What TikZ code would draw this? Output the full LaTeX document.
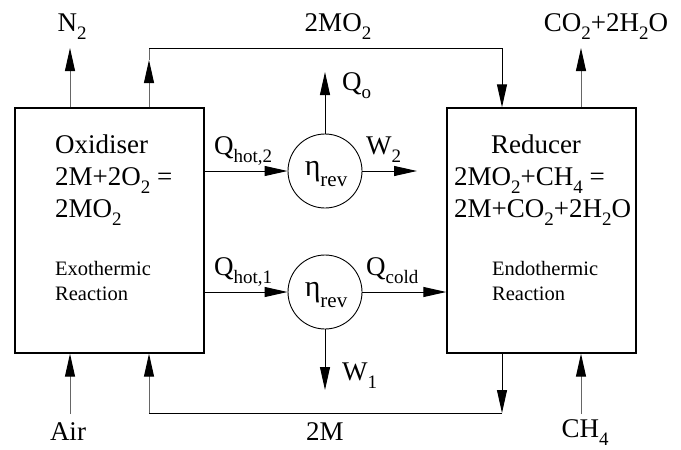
\documentclass[tikz,border=0pt]{standalone}
\usepackage{fontspec}
\setmainfont{Liberation Serif}
\usetikzlibrary{arrows.meta}
\newcommand{\sbs}[1]{\raisebox{-8pt}{\fontsize{19}{19}\selectfont #1}}
\newcommand{\sbr}[1]{\raisebox{-11pt}{\fontsize{21}{21}\selectfont #1}}
\begin{document}
\begin{tikzpicture}[x=1pt,y=-1pt,
  bigtxt/.style={font=\fontsize{27}{28}\selectfont, inner sep=0pt},
  etatxt/.style={font=\fontsize{30}{30}\selectfont, inner sep=0pt},
  smalltxt/.style={font=\fontsize{20.5}{24}\selectfont, inner sep=0pt},
  reactor/.style={draw, line width=1.4pt, minimum width=189pt, minimum height=245pt, inner sep=0pt},
  engine/.style={draw, circle, line width=0.9pt, minimum size=74pt, inner sep=0pt},
  arr/.style={-{Triangle[length=23pt,width=10pt,color=black,fill=black]}, line width=1pt},
  garr/.style={arr, draw=black!60},
  ln/.style={line width=1pt},
  gln/.style={ln, draw=black!60}]
\useasboundingbox (0,0) rectangle (681,450);

% reactors
\node[reactor] (ox) at (109.5,230.5) {};
\node[reactor] (red) at (541.5,230.5) {};

% engines
\node[engine] (c2) at (325,171) {};
\node[engine] (c1) at (325,292) {};
\node[etatxt, anchor=base] (eta2) at (326,175) {η\sbr{rev}};
\node[etatxt, anchor=base] (eta1) at (326,296) {η\sbr{rev}};

% box texts
\node[bigtxt, anchor=base west] (ox1) at (55,153) {Oxidiser};
\node[bigtxt, anchor=base west] (ox2) at (55,185) {2M+2O\sbs{2} =};
\node[bigtxt, anchor=base west] (ox3) at (55,217) {2MO\sbs{2}};
\node[smalltxt, anchor=base west] (ox4) at (55,275) {Exothermic};
\node[smalltxt, anchor=base west] (ox5) at (55,300) {Reaction};

\node[bigtxt, anchor=base] (re1) at (536,153) {Reducer};
\node[bigtxt, anchor=base west] (re2) at (454,185) {2MO\sbs{2}+CH\sbs{4} =};
\node[bigtxt, anchor=base west] (re3) at (454,217) {2M+CO\sbs{2}+2H\sbs{2}O};
\node[smalltxt, anchor=base west] (re4) at (492,275) {Endothermic};
\node[smalltxt, anchor=base west] (re5) at (492,300) {Reaction};

% outer labels
\node[bigtxt, anchor=base] (ln2) at (72,31) {N\sbs{2}};
\node[bigtxt, anchor=base] (lmo2) at (338,31) {2MO\sbs{2}};
\node[bigtxt, anchor=base] (lco2) at (606,31) {CO\sbs{2}+2H\sbs{2}O};
\node[bigtxt, anchor=base] (lair) at (68,440) {Air};
\node[bigtxt, anchor=base] (lm) at (325,440) {2M};
\node[bigtxt, anchor=base] (lch4) at (585,437) {CH\sbs{4}};

% inner labels
\node[bigtxt, anchor=base west] (lqo) at (342,90) {Q\sbs{o}};
\node[bigtxt, anchor=base west] (lw2) at (366,154) {W\sbs{2}};
\node[bigtxt, anchor=base west] (lqh2) at (214,154) {Q\sbs{hot,2}};
\node[bigtxt, anchor=base west] (lqh1) at (214,275) {Q\sbs{hot,1}};
\node[bigtxt, anchor=base west] (lqc) at (366,275) {Q\sbs{cold}};
\node[bigtxt, anchor=base west] (lw1) at (342,380) {W\sbs{1}};

% coordinates
\coordinate (n2) at (70,48);
\coordinate (t1) at (149,48);
\coordinate (tm) at (149,60);
\coordinate (t2) at (502,48);
\coordinate (co) at (581,48);
\coordinate (air) at (70,414);
\coordinate (b1) at (149,413);
\coordinate (b2) at (502,413);
\coordinate (ch) at (581,414);
\coordinate (qo) at (325,72);
\coordinate (w2) at (417,171);
\coordinate (w1) at (325,390);

% stream connectors
\draw[garr] (ox.north -| n2) -- (n2);
\draw[garr] (ox.north -| t1) -- (tm);
\draw[gln] (tm) -- (t1);
\draw[ln] (t1) -- (t2);
\draw[arr] (t2) -- (red.north -| t2);
\draw[garr] (red.north -| co) -- (co);
\draw[garr] (air) -- (ox.south -| air);
\draw[arr] (red.south -| b2) -- (b2);
\draw[ln] (b2) -- (b1);
\draw[garr] (b1) -- (ox.south -| b1);
\draw[garr] (ch) -- (red.south -| ch);

% heat / work connectors
\draw[arr] (ox.east |- c2) -- (c2.west);
\draw[arr] (ox.east |- c1) -- (c1.west);
\draw[arr] (c2.north) -- (qo);
\draw[arr] (c2.east) -- (w2);
\draw[arr] (c1.east) -- (red.west |- c1);
\draw[arr] (c1.south) -- (w1);
\end{tikzpicture}
\end{document}
